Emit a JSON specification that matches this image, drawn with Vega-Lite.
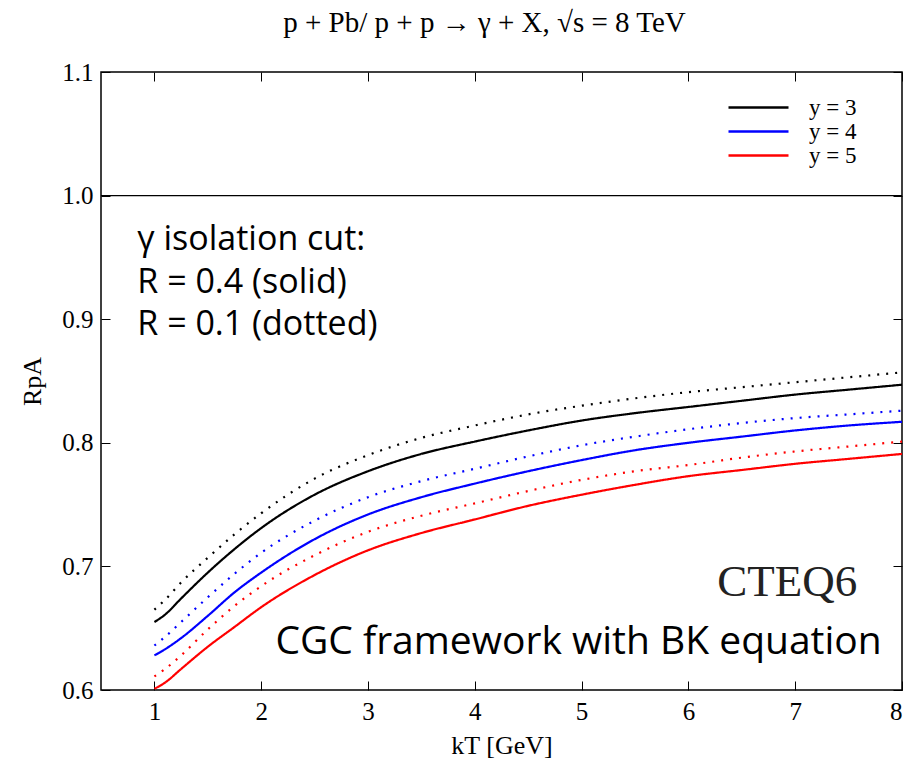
{
  "$schema": "https://vega.github.io/schema/vega-lite/v6.json",
  "width": 801,
  "height": 618,
  "autosize": {"type": "none"},
  "padding": {"left": 101, "top": 72, "right": 5, "bottom": 72},
  "background": "white",
  "title": {
    "text": "p + Pb/ p + p → γ + X, √s = 8 TeV",
    "font": "Liberation Serif",
    "fontSize": 29,
    "fontWeight": "normal",
    "color": "black",
    "anchor": "middle",
    "dx": -17,
    "offset": 22
  },
  "config": {
    "view": {"stroke": "black", "strokeWidth": 1.5},
    "axis": {
      "grid": false,
      "domain": false,
      "tickColor": "black",
      "tickSize": -9,
      "tickWidth": 1,
      "labelFont": "Liberation Serif",
      "labelFontSize": 25,
      "labelColor": "black",
      "titleFont": "Liberation Serif",
      "titleFontSize": 26,
      "titleFontWeight": "normal",
      "titleColor": "black"
    },
    "legend": {
      "orient": "none",
      "legendX": 646,
      "legendY": 24,
      "labelFont": "Liberation Serif",
      "labelFontSize": 23,
      "labelColor": "black",
      "symbolType": "M-5,0H5",
      "symbolSize": 144,
      "symbolStrokeWidth": 2.5,
      "rowPadding": 0,
      "labelOffset": 39,
      "padding": 0
    }
  },
  "datasets": {
    "curves": [
      {"kT": 1, "R": 0.655, "rapidity": "y = 3", "cut": "R = 0.4"},
      {"kT": 1.1, "R": 0.661, "rapidity": "y = 3", "cut": "R = 0.4"},
      {"kT": 1.25, "R": 0.674, "rapidity": "y = 3", "cut": "R = 0.4"},
      {"kT": 1.5, "R": 0.695, "rapidity": "y = 3", "cut": "R = 0.4"},
      {"kT": 1.75, "R": 0.714, "rapidity": "y = 3", "cut": "R = 0.4"},
      {"kT": 2, "R": 0.731, "rapidity": "y = 3", "cut": "R = 0.4"},
      {"kT": 2.5, "R": 0.758, "rapidity": "y = 3", "cut": "R = 0.4"},
      {"kT": 3, "R": 0.777, "rapidity": "y = 3", "cut": "R = 0.4"},
      {"kT": 3.5, "R": 0.791, "rapidity": "y = 3", "cut": "R = 0.4"},
      {"kT": 4, "R": 0.801, "rapidity": "y = 3", "cut": "R = 0.4"},
      {"kT": 4.5, "R": 0.810, "rapidity": "y = 3", "cut": "R = 0.4"},
      {"kT": 5, "R": 0.818, "rapidity": "y = 3", "cut": "R = 0.4"},
      {"kT": 5.5, "R": 0.824, "rapidity": "y = 3", "cut": "R = 0.4"},
      {"kT": 6, "R": 0.829, "rapidity": "y = 3", "cut": "R = 0.4"},
      {"kT": 6.5, "R": 0.834, "rapidity": "y = 3", "cut": "R = 0.4"},
      {"kT": 7, "R": 0.839, "rapidity": "y = 3", "cut": "R = 0.4"},
      {"kT": 7.5, "R": 0.843, "rapidity": "y = 3", "cut": "R = 0.4"},
      {"kT": 8, "R": 0.847, "rapidity": "y = 3", "cut": "R = 0.4"},

      {"kT": 1, "R": 0.665, "rapidity": "y = 3", "cut": "R = 0.1"},
      {"kT": 1.1, "R": 0.673, "rapidity": "y = 3", "cut": "R = 0.1"},
      {"kT": 1.25, "R": 0.687, "rapidity": "y = 3", "cut": "R = 0.1"},
      {"kT": 1.5, "R": 0.707, "rapidity": "y = 3", "cut": "R = 0.1"},
      {"kT": 1.75, "R": 0.726, "rapidity": "y = 3", "cut": "R = 0.1"},
      {"kT": 2, "R": 0.743, "rapidity": "y = 3", "cut": "R = 0.1"},
      {"kT": 2.5, "R": 0.771, "rapidity": "y = 3", "cut": "R = 0.1"},
      {"kT": 3, "R": 0.790, "rapidity": "y = 3", "cut": "R = 0.1"},
      {"kT": 3.5, "R": 0.804, "rapidity": "y = 3", "cut": "R = 0.1"},
      {"kT": 4, "R": 0.814, "rapidity": "y = 3", "cut": "R = 0.1"},
      {"kT": 4.5, "R": 0.823, "rapidity": "y = 3", "cut": "R = 0.1"},
      {"kT": 5, "R": 0.830, "rapidity": "y = 3", "cut": "R = 0.1"},
      {"kT": 5.5, "R": 0.836, "rapidity": "y = 3", "cut": "R = 0.1"},
      {"kT": 6, "R": 0.841, "rapidity": "y = 3", "cut": "R = 0.1"},
      {"kT": 6.5, "R": 0.845, "rapidity": "y = 3", "cut": "R = 0.1"},
      {"kT": 7, "R": 0.849, "rapidity": "y = 3", "cut": "R = 0.1"},
      {"kT": 7.5, "R": 0.853, "rapidity": "y = 3", "cut": "R = 0.1"},
      {"kT": 8, "R": 0.857, "rapidity": "y = 3", "cut": "R = 0.1"},

      {"kT": 1, "R": 0.628, "rapidity": "y = 4", "cut": "R = 0.4"},
      {"kT": 1.1, "R": 0.633, "rapidity": "y = 4", "cut": "R = 0.4"},
      {"kT": 1.25, "R": 0.642, "rapidity": "y = 4", "cut": "R = 0.4"},
      {"kT": 1.5, "R": 0.660, "rapidity": "y = 4", "cut": "R = 0.4"},
      {"kT": 1.75, "R": 0.679, "rapidity": "y = 4", "cut": "R = 0.4"},
      {"kT": 2, "R": 0.695, "rapidity": "y = 4", "cut": "R = 0.4"},
      {"kT": 2.5, "R": 0.722, "rapidity": "y = 4", "cut": "R = 0.4"},
      {"kT": 3, "R": 0.742, "rapidity": "y = 4", "cut": "R = 0.4"},
      {"kT": 3.5, "R": 0.756, "rapidity": "y = 4", "cut": "R = 0.4"},
      {"kT": 4, "R": 0.767, "rapidity": "y = 4", "cut": "R = 0.4"},
      {"kT": 4.5, "R": 0.777, "rapidity": "y = 4", "cut": "R = 0.4"},
      {"kT": 5, "R": 0.786, "rapidity": "y = 4", "cut": "R = 0.4"},
      {"kT": 5.5, "R": 0.794, "rapidity": "y = 4", "cut": "R = 0.4"},
      {"kT": 6, "R": 0.800, "rapidity": "y = 4", "cut": "R = 0.4"},
      {"kT": 6.5, "R": 0.805, "rapidity": "y = 4", "cut": "R = 0.4"},
      {"kT": 7, "R": 0.810, "rapidity": "y = 4", "cut": "R = 0.4"},
      {"kT": 7.5, "R": 0.814, "rapidity": "y = 4", "cut": "R = 0.4"},
      {"kT": 8, "R": 0.817, "rapidity": "y = 4", "cut": "R = 0.4"},

      {"kT": 1, "R": 0.636, "rapidity": "y = 4", "cut": "R = 0.1"},
      {"kT": 1.1, "R": 0.643, "rapidity": "y = 4", "cut": "R = 0.1"},
      {"kT": 1.25, "R": 0.655, "rapidity": "y = 4", "cut": "R = 0.1"},
      {"kT": 1.5, "R": 0.675, "rapidity": "y = 4", "cut": "R = 0.1"},
      {"kT": 1.75, "R": 0.694, "rapidity": "y = 4", "cut": "R = 0.1"},
      {"kT": 2, "R": 0.711, "rapidity": "y = 4", "cut": "R = 0.1"},
      {"kT": 2.5, "R": 0.737, "rapidity": "y = 4", "cut": "R = 0.1"},
      {"kT": 3, "R": 0.756, "rapidity": "y = 4", "cut": "R = 0.1"},
      {"kT": 3.5, "R": 0.769, "rapidity": "y = 4", "cut": "R = 0.1"},
      {"kT": 4, "R": 0.779, "rapidity": "y = 4", "cut": "R = 0.1"},
      {"kT": 4.5, "R": 0.789, "rapidity": "y = 4", "cut": "R = 0.1"},
      {"kT": 5, "R": 0.798, "rapidity": "y = 4", "cut": "R = 0.1"},
      {"kT": 5.5, "R": 0.805, "rapidity": "y = 4", "cut": "R = 0.1"},
      {"kT": 6, "R": 0.811, "rapidity": "y = 4", "cut": "R = 0.1"},
      {"kT": 6.5, "R": 0.816, "rapidity": "y = 4", "cut": "R = 0.1"},
      {"kT": 7, "R": 0.820, "rapidity": "y = 4", "cut": "R = 0.1"},
      {"kT": 7.5, "R": 0.823, "rapidity": "y = 4", "cut": "R = 0.1"},
      {"kT": 8, "R": 0.826, "rapidity": "y = 4", "cut": "R = 0.1"},

      {"kT": 1, "R": 0.601, "rapidity": "y = 5", "cut": "R = 0.4"},
      {"kT": 1.1, "R": 0.606, "rapidity": "y = 5", "cut": "R = 0.4"},
      {"kT": 1.25, "R": 0.617, "rapidity": "y = 5", "cut": "R = 0.4"},
      {"kT": 1.5, "R": 0.635, "rapidity": "y = 5", "cut": "R = 0.4"},
      {"kT": 1.75, "R": 0.651, "rapidity": "y = 5", "cut": "R = 0.4"},
      {"kT": 2, "R": 0.667, "rapidity": "y = 5", "cut": "R = 0.4"},
      {"kT": 2.5, "R": 0.693, "rapidity": "y = 5", "cut": "R = 0.4"},
      {"kT": 3, "R": 0.713, "rapidity": "y = 5", "cut": "R = 0.4"},
      {"kT": 3.5, "R": 0.727, "rapidity": "y = 5", "cut": "R = 0.4"},
      {"kT": 4, "R": 0.738, "rapidity": "y = 5", "cut": "R = 0.4"},
      {"kT": 4.5, "R": 0.749, "rapidity": "y = 5", "cut": "R = 0.4"},
      {"kT": 5, "R": 0.758, "rapidity": "y = 5", "cut": "R = 0.4"},
      {"kT": 5.5, "R": 0.766, "rapidity": "y = 5", "cut": "R = 0.4"},
      {"kT": 6, "R": 0.773, "rapidity": "y = 5", "cut": "R = 0.4"},
      {"kT": 6.5, "R": 0.778, "rapidity": "y = 5", "cut": "R = 0.4"},
      {"kT": 7, "R": 0.783, "rapidity": "y = 5", "cut": "R = 0.4"},
      {"kT": 7.5, "R": 0.787, "rapidity": "y = 5", "cut": "R = 0.4"},
      {"kT": 8, "R": 0.791, "rapidity": "y = 5", "cut": "R = 0.4"},

      {"kT": 1, "R": 0.611, "rapidity": "y = 5", "cut": "R = 0.1"},
      {"kT": 1.1, "R": 0.617, "rapidity": "y = 5", "cut": "R = 0.1"},
      {"kT": 1.25, "R": 0.628, "rapidity": "y = 5", "cut": "R = 0.1"},
      {"kT": 1.5, "R": 0.649, "rapidity": "y = 5", "cut": "R = 0.1"},
      {"kT": 1.75, "R": 0.668, "rapidity": "y = 5", "cut": "R = 0.1"},
      {"kT": 2, "R": 0.684, "rapidity": "y = 5", "cut": "R = 0.1"},
      {"kT": 2.5, "R": 0.709, "rapidity": "y = 5", "cut": "R = 0.1"},
      {"kT": 3, "R": 0.728, "rapidity": "y = 5", "cut": "R = 0.1"},
      {"kT": 3.5, "R": 0.741, "rapidity": "y = 5", "cut": "R = 0.1"},
      {"kT": 4, "R": 0.751, "rapidity": "y = 5", "cut": "R = 0.1"},
      {"kT": 4.5, "R": 0.761, "rapidity": "y = 5", "cut": "R = 0.1"},
      {"kT": 5, "R": 0.770, "rapidity": "y = 5", "cut": "R = 0.1"},
      {"kT": 5.5, "R": 0.777, "rapidity": "y = 5", "cut": "R = 0.1"},
      {"kT": 6, "R": 0.782, "rapidity": "y = 5", "cut": "R = 0.1"},
      {"kT": 6.5, "R": 0.788, "rapidity": "y = 5", "cut": "R = 0.1"},
      {"kT": 7, "R": 0.793, "rapidity": "y = 5", "cut": "R = 0.1"},
      {"kT": 7.5, "R": 0.797, "rapidity": "y = 5", "cut": "R = 0.1"},
      {"kT": 8, "R": 0.801, "rapidity": "y = 5", "cut": "R = 0.1"}
    ],
    "notes": [
      {"kT": 0.84, "R": 0.964, "label": "γ isolation cut:"},
      {"kT": 0.84, "R": 0.929, "label": "R = 0.4 (solid)"},
      {"kT": 0.84, "R": 0.895, "label": "R = 0.1 (dotted)"}
    ],
    "framework": [
      {"kT": 7.81, "R": 0.639, "label": "CGC framework with BK equation"}
    ],
    "pdf": [
      {"kT": 7.58, "R": 0.687, "label": "CTEQ6"}
    ],
    "unity": [
      {"R": 1.0}
    ]
  },
  "layer": [
    {
      "data": {"name": "unity"},
      "mark": {"type": "rule", "color": "black", "strokeWidth": 1.2},
      "encoding": {
        "y": {"field": "R", "type": "quantitative", "scale": {"domain": [0.6, 1.1], "nice": false, "zero": false}, "axis": null}
      }
    },
    {
      "data": {"name": "curves"},
      "mark": {"type": "line", "strokeWidth": 2.2, "strokeCap": "butt", "interpolate": "monotone"},
      "encoding": {
        "x": {
          "field": "kT", "type": "quantitative",
          "scale": {"domain": [0.5, 8], "nice": false, "zero": false},
          "axis": {"values": [1, 2, 3, 4, 5, 6, 7, 8], "format": "d", "title": "kT [GeV]", "labelPadding": 18, "titlePadding": 8}
        },
        "y": {
          "field": "R", "type": "quantitative",
          "scale": {"domain": [0.6, 1.1], "nice": false, "zero": false},
          "axis": {"values": [0.6, 0.7, 0.8, 0.9, 1.0, 1.1], "format": ".1f", "title": "RpA", "labelPadding": 17, "titlePadding": 16}
        },
        "color": {
          "field": "rapidity", "type": "nominal",
          "scale": {"domain": ["y = 3", "y = 4", "y = 5"], "range": ["#000000", "#0000ff", "#ff0000"]},
          "legend": {"title": null}
        },
        "strokeDash": {
          "field": "cut", "type": "nominal",
          "scale": {"domain": ["R = 0.4", "R = 0.1"], "range": [[1, 0], [2, 7]]},
          "legend": null
        },
        "detail": {"field": "cut"}
      }
    },
    {
      "data": {"name": "notes"},
      "mark": {"type": "text", "font": "Open Sans", "fontSize": 34, "color": "black", "baseline": "middle", "align": "left"},
      "encoding": {
        "x": {"field": "kT", "type": "quantitative", "scale": {"domain": [0.5, 8], "nice": false, "zero": false}, "axis": {"orient": "top", "values": [1, 2, 3, 4, 5, 6, 7, 8], "labels": false, "title": null}},
        "y": {"field": "R", "type": "quantitative", "scale": {"domain": [0.6, 1.1], "nice": false, "zero": false}, "axis": {"orient": "right", "values": [0.6, 0.7, 0.8, 0.9, 1.0, 1.1], "labels": false, "title": null}},
        "text": {"field": "label"}
      }
    },
    {
      "data": {"name": "framework"},
      "mark": {"type": "text", "font": "Open Sans", "fontSize": 39, "color": "black", "baseline": "middle", "align": "right"},
      "encoding": {
        "x": {"field": "kT", "type": "quantitative", "axis": null},
        "y": {"field": "R", "type": "quantitative", "axis": null},
        "text": {"field": "label"}
      }
    },
    {
      "data": {"name": "pdf"},
      "mark": {"type": "text", "font": "Liberation Serif", "fontSize": 45, "color": "#222222", "baseline": "middle", "align": "right"},
      "encoding": {
        "x": {"field": "kT", "type": "quantitative", "axis": null},
        "y": {"field": "R", "type": "quantitative", "axis": null},
        "text": {"field": "label"}
      }
    }
  ],
  "resolve": {"axis": {"x": "independent", "y": "independent"}}
}
